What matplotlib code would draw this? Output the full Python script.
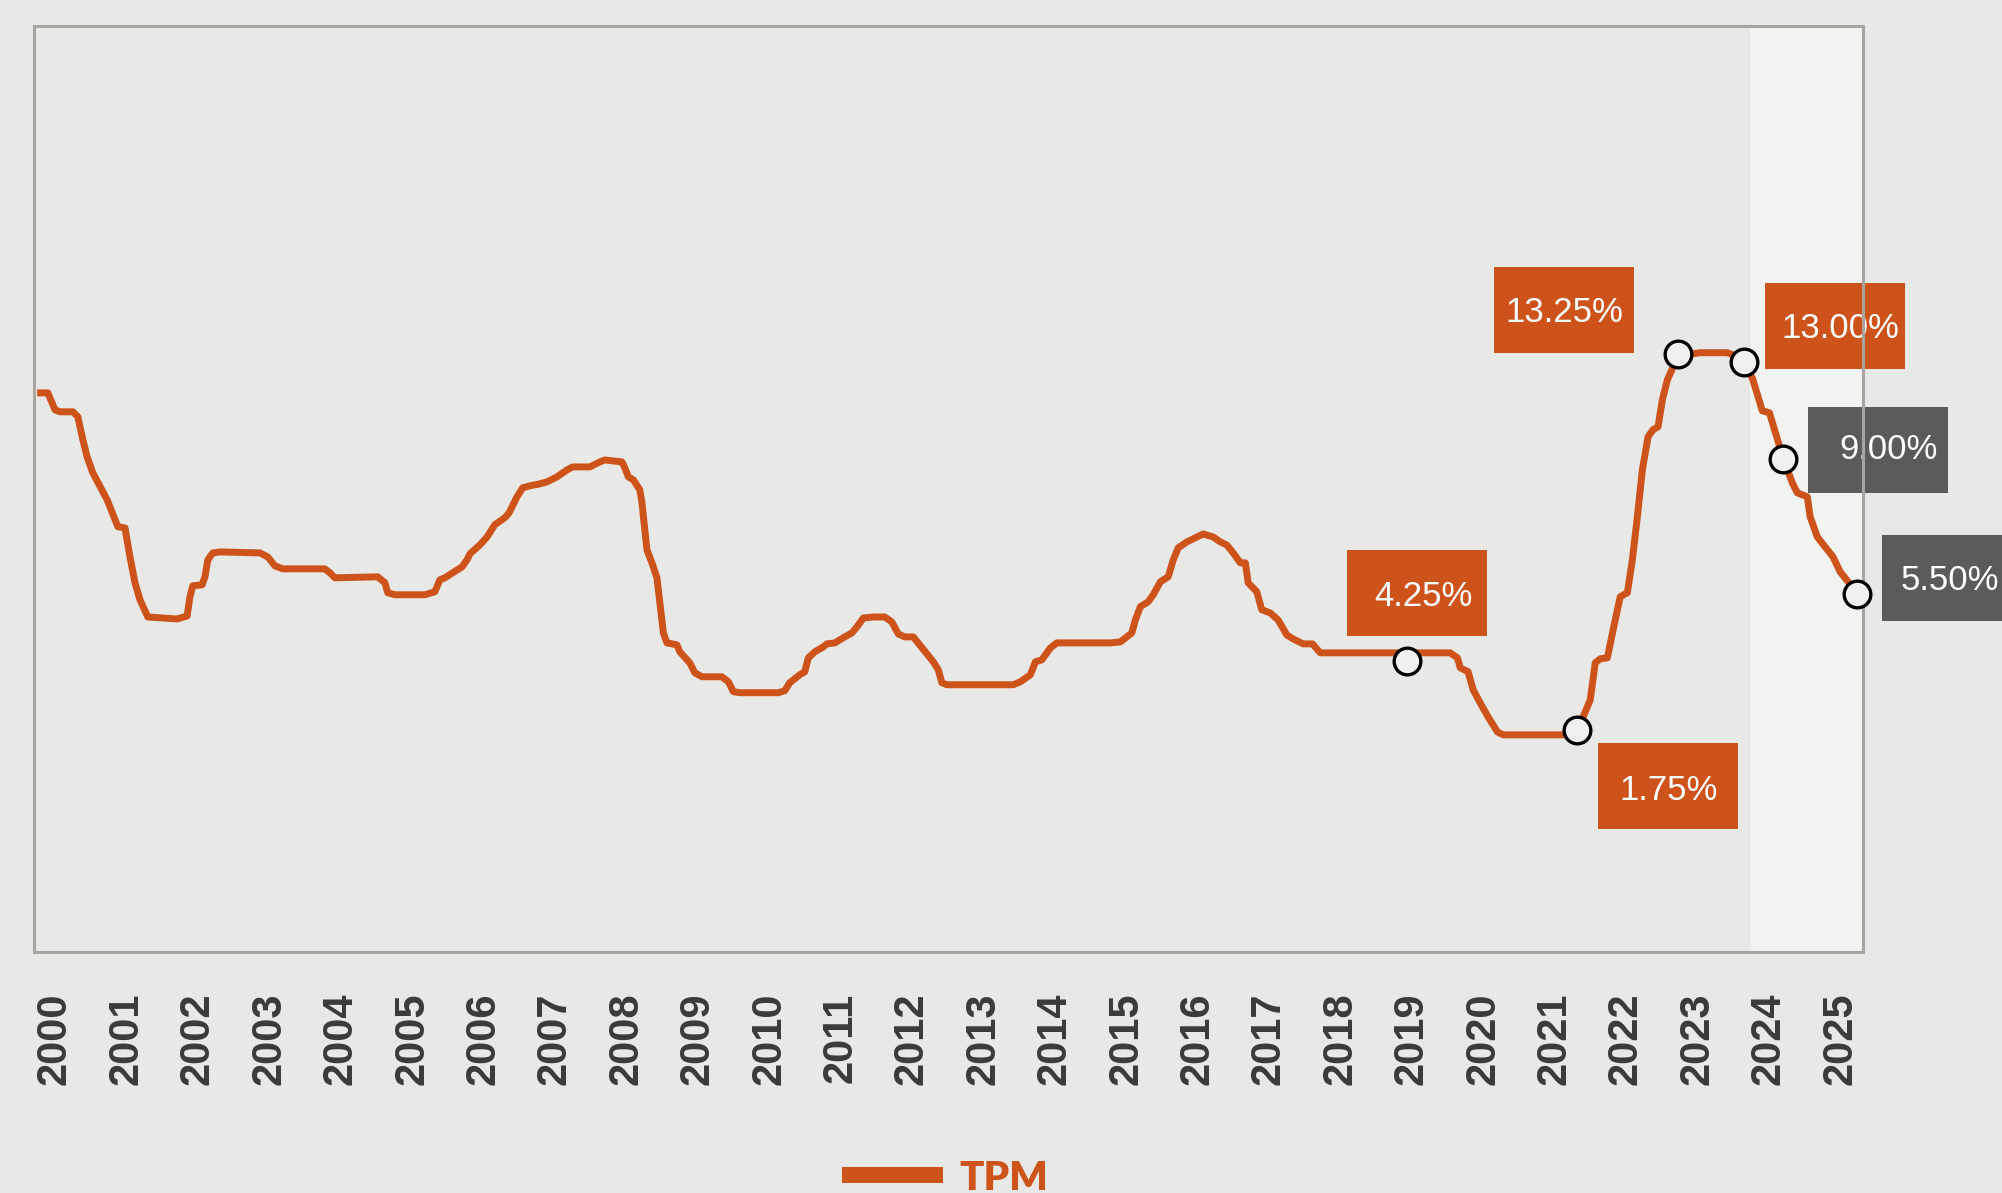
"""TPM (policy rate) 2000-2025 with highlighted turning points."""

import matplotlib

matplotlib.use("Agg")
import matplotlib.pyplot as plt
import matplotlib.transforms as mtransforms
from matplotlib.lines import Line2D
from matplotlib.patches import Rectangle

# policy rate (fractional year, %)
dates = [
    1999.75, 1999.90, 2000.00, 2000.07, 2000.25, 2000.32, 2000.39, 2000.45, 2000.53, 2000.73,
    2000.84, 2000.88, 2000.98, 2001.05, 2001.12, 2001.19, 2001.30, 2001.51, 2001.71, 2001.85,
    2001.89, 2001.93, 2002.06, 2002.10, 2002.14, 2002.21, 2002.31, 2002.87, 2002.98, 2003.08,
    2003.19, 2003.78, 2003.85, 2003.92, 2004.52, 2004.62, 2004.66, 2004.76, 2005.18, 2005.32,
    2005.39, 2005.46, 2005.57, 2005.70, 2005.77, 2005.81, 2005.95, 2006.05, 2006.16, 2006.30,
    2006.36, 2006.47, 2006.55, 2006.65, 2006.79, 2006.89, 2007.03, 2007.17, 2007.25, 2007.49,
    2007.63, 2007.70, 2007.94, 2007.98, 2008.03, 2008.10, 2008.19, 2008.22, 2008.29, 2008.36,
    2008.43, 2008.52, 2008.57, 2008.71, 2008.75, 2008.89, 2008.96, 2009.06, 2009.34, 2009.43,
    2009.50, 2009.59, 2010.13, 2010.22, 2010.29, 2010.43, 2010.50, 2010.55, 2010.64, 2010.76,
    2010.81, 2010.92, 2011.06, 2011.16, 2011.23, 2011.32, 2011.46, 2011.62, 2011.72, 2011.81,
    2011.90, 2012.02, 2012.11, 2012.30, 2012.37, 2012.42, 2012.49, 2013.42, 2013.52, 2013.66,
    2013.73, 2013.82, 2013.94, 2014.03, 2014.78, 2014.92, 2015.08, 2015.13, 2015.20, 2015.31,
    2015.38, 2015.48, 2015.59, 2015.66, 2015.73, 2015.85, 2016.08, 2016.22, 2016.32, 2016.41,
    2016.50, 2016.60, 2016.67, 2016.71, 2016.83, 2016.90, 2017.02, 2017.13, 2017.25, 2017.34,
    2017.48, 2017.61, 2017.72, 2019.54, 2019.64, 2019.68, 2019.79, 2019.86, 2019.96, 2020.07,
    2020.20, 2020.28, 2021.12, 2021.31, 2021.40, 2021.50, 2021.57, 2021.64, 2021.74, 2021.82,
    2021.92, 2022.02, 2022.09, 2022.16, 2022.23, 2022.31, 2022.38, 2022.45, 2022.51, 2022.58,
    2022.66, 2022.76, 2023.04, 2023.42, 2023.60, 2023.77, 2023.85, 2023.91, 2024.01, 2024.11,
    2024.20, 2024.33, 2024.40, 2024.54, 2024.58, 2024.68, 2024.90, 2025.00, 2025.09, 2025.24,
]
tpm = [
    12.05, 12.05, 11.54, 11.48, 11.48, 11.33, 10.64, 10.12, 9.64, 8.83,
    8.23, 8.02, 7.98, 7.11, 6.33, 5.82, 5.30, 5.27, 5.24, 5.33,
    5.91, 6.24, 6.27, 6.51, 7.02, 7.23, 7.26, 7.23, 7.11, 6.84,
    6.75, 6.75, 6.63, 6.48, 6.51, 6.33, 6.03, 5.97, 5.97, 6.06,
    6.42, 6.48, 6.63, 6.81, 7.02, 7.20, 7.47, 7.71, 8.08, 8.29,
    8.44, 8.92, 9.19, 9.25, 9.31, 9.37, 9.52, 9.73, 9.82, 9.82,
    9.97, 10.03, 9.97, 9.79, 9.52, 9.43, 9.13, 8.74, 7.32, 6.93,
    6.48, 4.82, 4.52, 4.46, 4.25, 3.92, 3.62, 3.50, 3.50, 3.35,
    3.05, 3.02, 3.02, 3.08, 3.32, 3.56, 3.65, 4.07, 4.25, 4.40,
    4.49, 4.52, 4.70, 4.82, 5.00, 5.27, 5.30, 5.30, 5.15, 4.79,
    4.70, 4.70, 4.46, 3.95, 3.71, 3.32, 3.26, 3.26, 3.35, 3.56,
    3.95, 4.01, 4.37, 4.52, 4.52, 4.55, 4.82, 5.21, 5.61, 5.76,
    5.97, 6.36, 6.51, 7.02, 7.38, 7.56, 7.80, 7.71, 7.56, 7.47,
    7.23, 6.93, 6.93, 6.33, 6.06, 5.52, 5.42, 5.21, 4.76, 4.64,
    4.49, 4.49, 4.22, 4.22, 4.07, 3.77, 3.65, 3.11, 2.71, 2.29,
    1.84, 1.75, 1.75, 1.90, 2.29, 2.80, 3.92, 4.04, 4.07, 4.91,
    5.91, 6.03, 7.02, 8.32, 9.73, 10.73, 10.94, 11.03, 11.84, 12.44,
    12.83, 13.17, 13.26, 13.26, 13.11, 12.50, 11.93, 11.51, 11.45, 10.73,
    10.09, 9.34, 9.04, 8.92, 8.32, 7.71, 7.11, 6.66, 6.42, 6.00,
]

# highlighted points and their labels
point_dates = [2018.94, 2021.31, 2022.73, 2023.66, 2024.20, 2025.24]
point_values = [3.98, 1.90, 13.23, 12.99, 10.06, 6.00]
point_labels = ["4.25%", "1.75%", "13.25%", "13.00%", "9.00%", "5.50%"]
point_kinds = ["actual", "actual", "actual", "actual", "forecast", "forecast"]

years = list(range(2000, 2026))
forecast_start = 2023.74

BG = "#e8e8e6"
ORANGE = "#cd531a"
GREY_BOX = "#5b5b5b"
FRAME = "#a8a4a1"

# label box placement, pixels from the point (box centre, text centre)
box_offsets = [(9.5, 68), (91, -56.5), (-114, 44), (91, 36), (95, 9), (95, 16)]
text_offsets = [(16, 67), (91.5, -58), (-113.5, 44), (96, 36), (106, 12), (93, 16)]
BOX_W, BOX_H = 140, 86


def add_label(fig, ax, x, y, text, color, box_off, text_off):
    # draw in pixels, anchored on the data point
    trans = mtransforms.ScaledTranslation(x, y, ax.transData)
    bx, by = box_off
    ax.add_patch(Rectangle((bx - BOX_W / 2, by - BOX_H / 2), BOX_W, BOX_H, transform=trans,
                           facecolor=color, edgecolor="none", clip_on=False, zorder=2.3))
    tx, ty = text_off
    ax.text(tx, ty - 12.5, text, transform=trans, ha="center", va="baseline",
            color="white", fontsize=25, family="Liberation Sans", zorder=2.4, clip_on=False)


def main():
    fig = plt.figure(figsize=(20.02, 11.93), dpi=100, facecolor=BG)
    ax = fig.add_axes([34 / 2002, 241 / 1193, 1829 / 2002, 926 / 1193], facecolor=BG)

    ax.set_xlim(1999.706, 2025.32)
    ax.set_ylim(-4.79, 23.1)
    ax.axvspan(forecast_start, 2025.32, color="#f2f2f1", lw=0, zorder=0)

    ax.plot(dates, tpm, color=ORANGE, lw=5, solid_joinstyle="round", solid_capstyle="butt",
            zorder=2)
    ax.plot(point_dates, point_values, ls="none", marker="o", ms=19.2, mew=2.4,
            mfc="#f0f0f0", mec="black", zorder=4, clip_on=False)

    for i in range(len(point_dates)):
        color = ORANGE if point_kinds[i] == "actual" else GREY_BOX
        add_label(fig, ax, point_dates[i], point_values[i], point_labels[i], color,
                  box_offsets[i], text_offsets[i])

    for side in ax.spines.values():
        side.set_color(FRAME)
        side.set_linewidth(2.2)

    ax.set_yticks([])
    ax.set_xticks(years)
    ax.set_xticklabels([str(y) for y in years], rotation=90, fontsize=30, fontweight="bold",
                       family="Liberation Sans", color="#3b3939")
    ax.tick_params(axis="x", length=0, pad=29)

    handle = Line2D([], [], color=ORANGE, lw=11.5, solid_capstyle="butt")
    leg = fig.legend([handle], ["TPM"], loc="center left",
                     bbox_to_anchor=(842 / 2002, 1 - 1178 / 1193), frameon=False,
                     handlelength=2.5, handletextpad=0.42, borderpad=0, borderaxespad=0,
                     prop={"family": "Lato", "weight": "heavy", "size": 29})
    for txt in leg.get_texts():
        txt.set_color(ORANGE)

    fig.savefig("out.png", dpi=100, facecolor=BG)


if __name__ == "__main__":
    main()
